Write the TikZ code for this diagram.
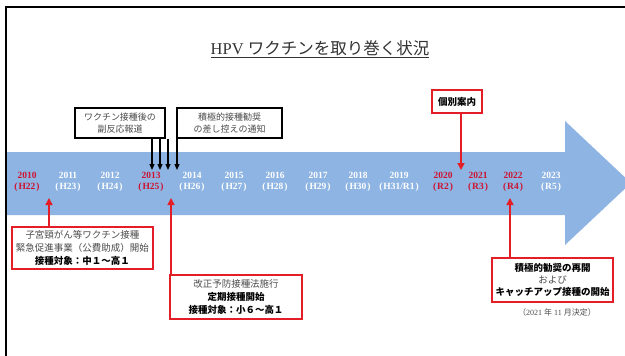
\documentclass[tikz,border=0pt]{standalone}
\usepackage{fontspec}
\setmainfont{Liberation Serif}
\newfontfamily\jp{Noto Sans CJK JP}
\usetikzlibrary{arrows.meta}
\definecolor{arrowblue}{RGB}{141,180,226}
\definecolor{boxred}{RGB}{228,30,38}
\definecolor{yearred}{RGB}{205,20,50}
\definecolor{txtgray}{RGB}{75,75,75}
\begin{document}
\begin{tikzpicture}[x=1pt,y=-1pt,
  blackbox/.style={draw=black, line width=1.6pt, fill=white, inner sep=0pt, align=center,
    font=\jp\fontsize{9}{12.5}\selectfont, text=txtgray},
  redbox/.style={draw=boxred, line width=1.6pt, fill=white, inner sep=0pt, align=center,
    font=\jp\fontsize{9.5}{13}\selectfont, text=txtgray},
  yr/.style={font=\bfseries\fontsize{9.5}{11}\selectfont, align=center, inner sep=0pt},
  blackarrow/.style={line width=1.2pt, -{Triangle[width=5pt,length=6pt]}},
  redarrow/.style={draw=boxred, line width=1.6pt, -{Triangle[width=7pt,length=7pt]}},
]
\useasboundingbox (0,0) rectangle (625,356);
\fill[white] (0,0) rectangle (625,356);
% frame
\draw[line width=2pt] (6,356) -- (6,7) -- (625,7);
% big arrow
\fill[arrowblue] (7,152) -- (565,152) -- (565,121) -- (631,183) -- (565,245) -- (565,215) -- (7,215) -- cycle;
% title
\node[font=\fontsize{16.5}{20}\selectfont, text=black!80] (title) at (320,49)
  {\underline{HPV {\jp ワクチンを取り巻く状況}}};
% years
\foreach \xx/\yy/\hh/\cc in {27/2010/H22/yearred, 68/2011/H23/white, 110/2012/H24/white,
  151/2013/H25/yearred, 192/2014/H26/white, 234/2015/H27/white, 275/2016/H28/white,
  318/2017/H29/white, 358/2018/H30/white, 399/2019/{H31/R1}/white,
  443/2020/R2/yearred, 478/2021/R3/yearred, 513/2022/R4/yearred, 551/2023/R5/white}
  \node[yr, text=\cc] (y\yy) at (\xx,182) {\yy\\(\kern1pt\hh\kern1pt)};
% black boxes
\node[blackbox, minimum width=90, minimum height=30] (box1) at (120,123)
  {ワクチン接種後の\\副反応報道};
\node[blackbox, minimum width=105, minimum height=30] (box2) at (229.5,123)
  {積極的接種勧奨\\の差し控えの通知};
\coordinate (t1) at (152,170);
\coordinate (t2) at (160,170);
\coordinate (t3) at (168,170);
\coordinate (t4) at (177,170);
\draw[blackarrow] (box1.south -| t1) -- (t1);
\draw[blackarrow] (box1.south -| t2) -- (t2);
\draw[blackarrow] (box1.south -| t3) -- (t3);
\draw[blackarrow] (box2.south -| t4) -- (t4);
% red boxes
\node[redbox, minimum width=50, minimum height=23] (boxK) at (457,101.5)
  {\textbf{\color{black}個別案内}};
\coordinate (tK) at (461,170);
\draw[redarrow] (boxK.south -| tK) -- (tK);

\node[redbox, minimum width=141, minimum height=42] (boxA) at (82.5,248)
  {子宮頸がん等ワクチン接種\\緊急促進事業（公費助成）開始\\\textbf{\color{black}接種対象：中１～高１}};
\coordinate (tA) at (49,198);
\draw[redarrow] (boxA.north -| tA) -- (tA);

\node[redbox, minimum width=132, minimum height=44] (boxB) at (236,297)
  {改正予防接種法施行\\\textbf{\color{black}定期接種開始}\\\textbf{\color{black}接種対象：小６～高１}};
\coordinate (tB) at (171,198);
\draw[redarrow] (boxB.north -| tB) -- (tB);

\node[redbox, minimum width=121, minimum height=44, font=\jp\fontsize{9.5}{12}\selectfont] (boxC) at (552.5,280)
  {\textbf{\color{black}積極的勧奨の再開}\\および\\\textbf{\color{black}キャッチアップ接種の開始}};
\coordinate (tC) at (510,198);
\draw[redarrow] (boxC.north -| tC) -- (tC);

\node[font=\fontsize{8}{10}\selectfont, text=txtgray, inner sep=0pt] (note) at (557,312)
  {{\jp （}2021 {\jp 年} 11 {\jp 月決定）}};
\end{tikzpicture}
\end{document}
